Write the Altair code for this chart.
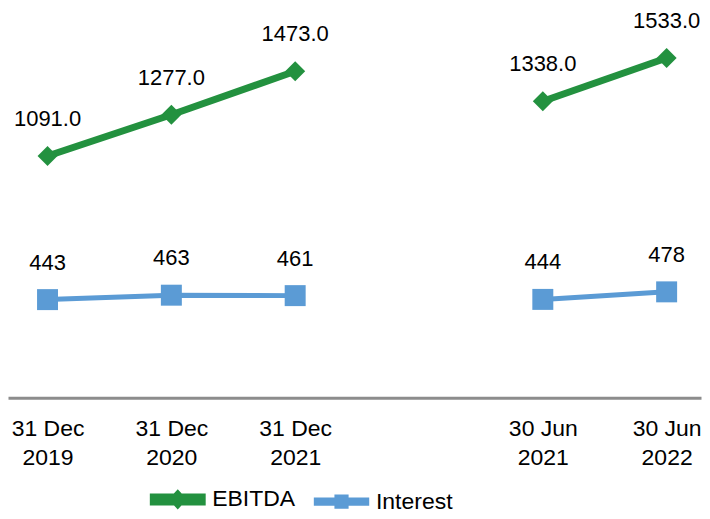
import altair as alt
import pandas as pd

# ---- data ----
periods = ["31 Dec 2019", "31 Dec 2020", "31 Dec 2021", "30 Jun 2021", "30 Jun 2022"]
segments = ["FY", "FY", "FY", "H1", "H1"]
ebitda = [1091.0, 1277.0, 1473.0, 1338.0, 1533.0]
interest = [443, 463, 461, 444, 478]
series_names = ["EBITDA", "Interest"]
series_colors = ["#23913F", "#5B9BD5"]
x_domain = ["31 Dec 2019", "31 Dec 2020", "31 Dec 2021", "gap", "30 Jun 2021", "30 Jun 2022"]

rows = []
for p, s, e, i in zip(periods, segments, ebitda, interest):
    rows.append({"period": p, "segment": s, "series": "EBITDA", "value": e, "label": f"{e:.1f}"})
    rows.append({"period": p, "segment": s, "series": "Interest", "value": i, "label": f"{i:d}"})
df = pd.DataFrame(rows)

FONT = "Liberation Sans"

x_enc = alt.X(
    "period:N",
    sort=x_domain,
    scale=alt.Scale(type="point", domain=x_domain, padding=0.2984, align=0.535),
    axis=alt.Axis(
        title=None,
        values=periods,
        labelExpr="[slice(datum.value, 0, 6), slice(datum.value, 7)]",
        labelAngle=0,
        labelFont=FONT,
        labelFontSize=23,
        labelColor="#000000",
        labelLineHeight=29,
        labelPadding=20,
        labelBaseline="top",
        ticks=False,
        domainColor="#8C8C8C",
        domainWidth=3,
        grid=False,
    ),
)
y_enc = alt.Y("value:Q", scale=alt.Scale(domain=[0, 1757], nice=False, zero=True), axis=None)
color_scale = alt.Scale(domain=series_names, range=series_colors)

# legend symbols: a thick line segment with the series marker on it
sym_ebitda = "M-3.2,-0.33L-0.3,-0.33L0,-0.65L0.3,-0.33L3.2,-0.33L3.2,0.33L0.3,0.33L0,0.65L-0.3,0.33L-3.2,0.33Z"
sym_interest = "M-3.3,-0.22L-0.6,-0.22L-0.6,-0.6L0.6,-0.6L0.6,-0.22L3.3,-0.22L3.3,0.22L0.6,0.22L0.6,0.6L-0.6,0.6L-0.6,0.22L-3.3,0.22Z"

base = alt.Chart(df)

legend_props = dict(
    title=None,
    orient="none",
    legendX=143,
    legendY=480,
    direction="horizontal",
    padding=0,
    symbolSize=234,
    symbolOffset=15.5,
    symbolStrokeWidth=0,
    labelOffset=23,
    columnPadding=10,
    labelFont=FONT,
    labelFontSize=23,
    labelColor="#000000",
)

# legend-only layer (no marks drawn): first, so its legend settings win the merge
legend_layer = base.transform_filter("false").mark_point(filled=True, opacity=1, strokeWidth=0).encode(
    x=x_enc,
    y=y_enc,
    color=alt.Color("series:N", scale=color_scale, legend=alt.Legend(**legend_props)),
    shape=alt.Shape(
        "series:N",
        scale=alt.Scale(domain=series_names, range=[sym_ebitda, sym_interest]),
        legend=alt.Legend(**legend_props),
    ),
)

lines = base.mark_line().encode(
    x=x_enc,
    y=y_enc,
    color=alt.Color("series:N", scale=color_scale),
    strokeWidth=alt.StrokeWidth("series:N", scale=alt.Scale(domain=series_names, range=[7, 5]), legend=None),
    detail="segment:N",
)

pts_ebitda = base.transform_filter(alt.datum.series == "EBITDA").mark_point(
    filled=True, opacity=1, strokeWidth=0, shape="diamond", size=400
).encode(x=x_enc, y=y_enc, color=alt.Color("series:N", scale=color_scale))

pts_interest = base.transform_filter(alt.datum.series == "Interest").mark_point(
    filled=True, opacity=1, strokeWidth=0, shape="square", size=441
).encode(x=x_enc, y=y_enc, color=alt.Color("series:N", scale=color_scale))

labels = base.mark_text(dy=-30, baseline="alphabetic", font=FONT, fontSize=22, color="#000000").encode(
    x=x_enc,
    y=y_enc,
    text="label:N",
)

chart = (
    alt.layer(legend_layer, lines, pts_ebitda, pts_interest, labels)
    .properties(width=694, height=390, padding=0)
    .configure_view(stroke=None)
)

chart.save("out.html", embed_options={"renderer": "svg", "actions": False})
